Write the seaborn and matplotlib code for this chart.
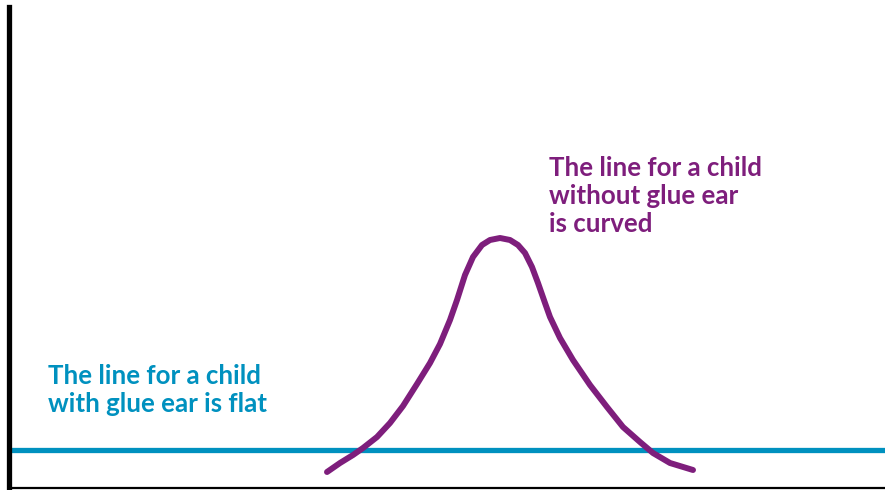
import matplotlib
matplotlib.use("Agg")
import pandas as pd
import seaborn as sns
import matplotlib.pyplot as plt

# flat line (child with glue ear)
flat_x = [9, 885]
flat_y = [40, 40]

# bell curve (child without glue ear)
curve_x = [327, 340, 353, 363, 377, 390, 403, 417, 430, 440, 450, 457, 465,
           473, 482, 490, 500, 510, 518, 525, 532, 538, 545, 550, 560, 573,
           590, 607, 623, 640, 653, 670, 693]
curve_y = [18, 27, 35, 42, 53, 67, 84, 106, 127, 146, 170, 190, 215,
           233, 245, 250, 252, 250, 245, 237, 223, 207, 187, 173, 152, 130,
           105, 83, 63, 48, 37, 27, 20]

flat_label = "The line for a child\nwith glue ear is flat"
curve_label = "The line for a child\nwithout glue ear\nis curved"

teal = "#0091BF"
purple = "#7E1E7C"

sns.set_style("white")
plt.rcParams["font.family"] = ["Lato", "DejaVu Sans"]

fig = plt.figure(figsize=(8.85, 4.9), dpi=100)
ax = fig.add_axes([9 / 885, 2 / 490, 876 / 885, 481 / 490])

flat = pd.DataFrame({"x": flat_x, "y": flat_y})
curve = pd.DataFrame({"x": curve_x, "y": curve_y})

sns.lineplot(data=flat, x="x", y="y", color=teal, linewidth=3.8,
             estimator=None, sort=False, ax=ax)
sns.lineplot(data=curve, x="x", y="y", color=purple, linewidth=4.3,
             estimator=None, sort=False, ax=ax,
             solid_capstyle="round", solid_joinstyle="round")

ax.text(48, 126, flat_label, color=teal, fontsize=18.6, fontweight="bold",
        va="top", ha="left", linespacing=1.2)
ax.text(549, 334, curve_label, color=purple, fontsize=18.6, fontweight="bold",
        va="top", ha="left", linespacing=1.2)

ax.set_xlim(9, 885)
ax.set_ylim(2, 483)
ax.set_xticks([])
ax.set_yticks([])
ax.set_xlabel("")
ax.set_ylabel("")
for side in ["top", "right"]:
    ax.spines[side].set_visible(False)
ax.spines["left"].set_color("black")
ax.spines["left"].set_linewidth(3.8)
ax.spines["bottom"].set_color("black")
ax.spines["bottom"].set_linewidth(1.6)

fig.savefig("out.png", dpi=100, facecolor="white")
